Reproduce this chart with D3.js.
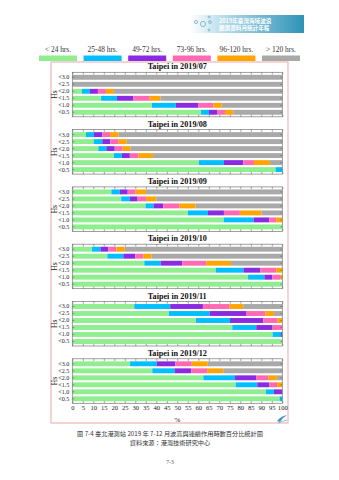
<!DOCTYPE html>
<html><head><meta charset="utf-8">
<script src="https://cdn.jsdelivr.net/npm/d3@7"></script>
<style>
html,body{margin:0;padding:0;background:#fff;}
svg{display:block;}
</style></head>
<body>
<script>
// ---- data ----
const categories = ["< 24 hrs.", "25-48 hrs.", "49-72 hrs.", "73-96 hrs.", "96-120 hrs.", "> 120 hrs."];
const colors = ["#90ee90", "#00bfff", "#8a2be2", "#ff69b4", "#ffa500", "#a9a9a9"];
const hsLabels = ["<3.0", "<2.5", "<2.0", "<1.5", "<1.0", "<0.5"];
const months = ["2019/07", "2019/08", "2019/09", "2019/10", "2019/11", "2019/12"];
const xTicks = [0,5,10,15,20,25,30,35,40,45,50,55,60,65,70,75,80,85,90,95,100];

const pct07 = [
  [0,0,0,0,0,100],
  [0,0,0,0,0,100],
  [4.6,3.8,3.8,3.8,3.8,80.2],
  [13.7,7.6,7.8,7.8,5.1,58.0],
  [37.9,11.4,10.6,7.3,4.0,28.8],
  [61.3,3.8,3.8,3.8,4.0,23.3]
];
const pct08 = [
  [6.5,3.8,4.0,3.7,4.0,78.0],
  [10.3,4.0,3.8,4.0,3.8,74.1],
  [12.4,3.8,4.0,3.8,3.8,72.2],
  [19.8,3.8,3.8,4.0,7.1,61.5],
  [60.3,11.9,9.2,5.1,7.6,5.9],
  [96.8,3.2,0,0,0,0]
];
const pct09 = [
  [18.6,4.0,3.8,3.8,4.9,64.9],
  [23.3,4.1,3.7,4.0,4.9,60.0],
  [34.9,3.8,4.6,7.8,7.6,41.3],
  [55.1,9.5,7.6,7.6,10.3,9.9],
  [72.1,14.3,7.5,3.2,2.9,0],
  [100,0,0,0,0,0]
];
const pct10 = [
  [9.4,4.0,3.8,3.8,4.0,75.0],
  [16.7,7.6,5.7,3.8,4.0,62.2],
  [34.3,7.8,10.3,11.4,11.8,24.4],
  [68.3,13.2,8.1,7.5,2.9,0],
  [83.7,7.8,3.8,3.7,1.0,0],
  [100,0,0,0,0,0]
];
const pct11 = [
  [29.5,17.1,15.6,12.7,6.5,18.6],
  [46.0,19.4,17.3,9.2,4.1,4.0],
  [58.9,16.2,15.9,6.8,2.2,0],
  [76.2,11.4,7.8,4.6,0,0],
  [95.4,4.0,0.6,0,0,0],
  [100,0,0,0,0,0]
];
const pct12 = [
  [27.5,12.7,8.9,7.8,7.6,35.5],
  [38.1,10.6,7.9,7.6,7.7,28.1],
  [62.4,15.1,10.0,5.9,4.0,2.6],
  [77.8,10.3,5.6,3.8,2.5,0],
  [92.2,3.8,4.0,0,0,0],
  [98.7,1.3,0,0,0,0]
];
const panels = [pct07, pct08, pct09, pct10, pct11, pct12];

const bannerLines = ["2019年臺灣海域波浪", "觀測資料月統計年報"];
const caption = "圖  7-4  臺北港測站 2019 年 7-12 月波高與連續作用時數百分比統計圖";
const source = "資料來源：港灣技術研究中心";
const pageNo = "7-3";

// ---- layout ----
const W = 339, H = 480;
const serif = "'Liberation Serif','DejaVu Serif',serif";
const cjk = "'Noto Sans CJK TC','Noto Sans CJK SC',sans-serif";
const svg = d3.select("body").append("svg").attr("width", W).attr("height", H);

// banner
const defs = svg.append("defs");
const grad = defs.append("linearGradient").attr("id","bg").attr("x1","0").attr("x2","1");
grad.append("stop").attr("offset","0").attr("stop-color","#ffffff");
grad.append("stop").attr("offset","0.35").attr("stop-color","#a9d6e6");
grad.append("stop").attr("offset","1").attr("stop-color","#2f93b8");
svg.append("rect").attr("x",190).attr("y",15).attr("width",114).attr("height",18).attr("fill","url(#bg)");
[[196,22,1.6],[203,24,2.6],[210,22,1.4],[209,17,1.0],[209,30,1.0]].forEach(c=>{
  svg.append("circle").attr("cx",c[0]).attr("cy",c[1]).attr("r",c[2]).attr("fill","none").attr("stroke","#6aaccc").attr("stroke-width",0.8);
});
bannerLines.forEach((t,i)=>{
  svg.append("text").attr("x",219).attr("y",22.5+i*7).attr("font-family",cjk).attr("font-size",5.6)
    .attr("fill","#fff").attr("font-weight","bold").text(t);
});

// outer pink frame
svg.append("rect").attr("x",51).attr("y",62).attr("width",237).attr("height",361)
  .attr("fill","none").attr("stroke","#e9a7a7").attr("stroke-width",1);

// legend
const legX = d3.scalePoint().domain(categories).range([58, 281]);
const leg = svg.append("g");
categories.forEach((c,i)=>{
  leg.append("text").attr("x",legX(c)).attr("y",52).attr("text-anchor","middle")
    .attr("font-family",serif).attr("font-size",7.4).attr("fill","#333").text(c);
  leg.append("rect").attr("x",legX(c)-19).attr("y",55.5).attr("width",38).attr("height",5.5).attr("fill",colors[i]);
});

// panels
const x = d3.scaleLinear().domain([0,100]).range([72.3, 282.3]);
const panelTop = d3.scaleLinear().domain([0,5]).range([72.3, 358.8]);
const ph = 44.5;

panels.forEach((rows, pi)=>{
  const top = panelTop(pi);
  const g = svg.append("g");
  const y = d3.scaleBand().domain(hsLabels).range([top+1.5, top+43.5]).paddingInner(0.3).paddingOuter(0.15);
  // title
  g.append("text").attr("x",(x(0)+x(100))/2).attr("y",top-3).attr("text-anchor","middle")
    .attr("font-family",serif).attr("font-weight","bold").attr("font-size",8.2).attr("fill","#111")
    .text("Taipei in " + months[pi]);
  // bars
  rows.forEach((vals, ri)=>{
    let cum = 0;
    vals.forEach((v, ci)=>{
      if (v > 0) {
        g.append("rect").attr("x",x(cum)).attr("y",y(hsLabels[ri]))
          .attr("width",x(cum+v)-x(cum)).attr("height",y.bandwidth()).attr("fill",colors[ci]);
      }
      cum += v;
    });
  });
  // box
  g.append("rect").attr("x",x(0)).attr("y",top).attr("width",x(100)-x(0)).attr("height",ph)
    .attr("fill","none").attr("stroke","#777").attr("stroke-width",0.7);
  // x ticks inward bottom and top
  const bottomAxis = d3.axisBottom(x).tickValues(xTicks).tickSizeInner(-2.2).tickSizeOuter(0)
    .tickFormat(pi===5 ? d3.format("d") : "");
  const bx = g.append("g").attr("transform",`translate(0,${top+ph})`).call(bottomAxis);
  bx.select(".domain").remove();
  bx.selectAll("line").attr("stroke","#666").attr("stroke-width",0.6);
  bx.selectAll("text").attr("font-family",serif).attr("font-size",6.6).attr("fill","#222").attr("dy","0.1em").attr("y",6);
  const topAxis = d3.axisTop(x).tickValues(xTicks).tickSizeInner(-2.2).tickSizeOuter(0).tickFormat("");
  const tx = g.append("g").attr("transform",`translate(0,${top})`).call(topAxis);
  tx.select(".domain").remove();
  tx.selectAll("line").attr("stroke","#666").attr("stroke-width",0.6);
  // y axis
  const yAxis = d3.axisLeft(y).tickSizeInner(-2).tickSizeOuter(0).tickPadding(3);
  const ly = g.append("g").attr("transform",`translate(${x(0)},0)`).call(yAxis);
  ly.select(".domain").remove();
  ly.selectAll("line").attr("stroke","#666").attr("stroke-width",0.6);
  ly.selectAll("text").attr("font-family",serif).attr("font-size",6.1).attr("fill","#222");
  const ry = g.append("g").attr("transform",`translate(${x(100)},0)`).call(d3.axisRight(y).tickSizeInner(-2).tickSizeOuter(0).tickFormat(""));
  ry.select(".domain").remove();
  ry.selectAll("line").attr("stroke","#666").attr("stroke-width",0.6);
  // Hs label
  g.append("text").attr("transform",`translate(57,${top+ph/2}) rotate(-90)`).attr("text-anchor","middle")
    .attr("font-family",serif).attr("font-size",7.6).attr("fill","#222").text("Hs");
});

// x axis title
svg.append("text").attr("x",(x(0)+x(100))/2).attr("y",421.5).attr("text-anchor","middle")
  .attr("font-family",serif).attr("font-size",7).attr("fill","#222").text("%");

// small logo swoosh bottom right
svg.append("path").attr("d","M277,421 q4,-5 10,-6 q-5,3 -7,7 z").attr("fill","#4a8fc8");
svg.append("path").attr("d","M278,423 q5,-2 9,-3").attr("stroke","#6aaedc").attr("fill","none").attr("stroke-width",0.8);

// caption and source
svg.append("text").attr("x",170).attr("y",435.5).attr("text-anchor","middle")
  .attr("font-family",cjk).attr("font-size",6.2).attr("fill","#333").text(caption);
svg.append("text").attr("x",170).attr("y",444.5).attr("text-anchor","middle")
  .attr("font-family",cjk).attr("font-size",6.2).attr("fill","#333").text(source);
svg.append("text").attr("x",170).attr("y",464).attr("text-anchor","middle")
  .attr("font-family",serif).attr("font-size",5.5).attr("fill","#555").text(pageNo);
</script>
</body></html>
